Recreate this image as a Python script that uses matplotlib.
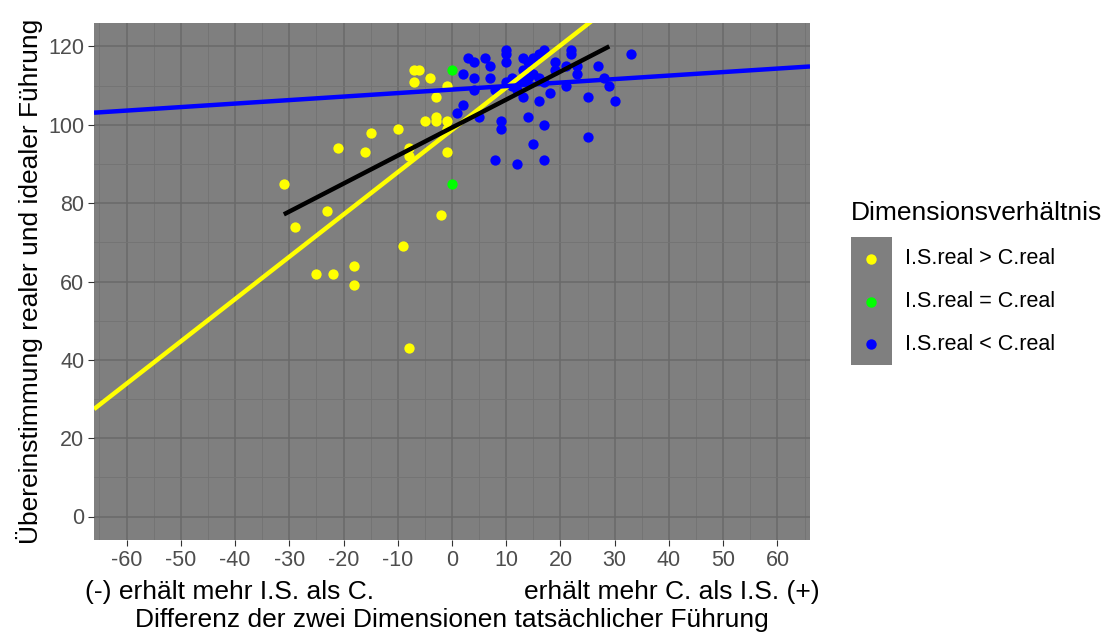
import matplotlib
matplotlib.use("Agg")
import matplotlib.pyplot as plt
import numpy as np
from matplotlib.lines import Line2D
from matplotlib.patches import Rectangle

plt.rcParams['font.family'] = ['Liberation Sans', 'DejaVu Sans']
plt.rcParams['axes.unicode_minus'] = False

# Differenz (C. - I.S.) und Uebereinstimmung, je Gruppe
yellow_x = [-31, -29, -25, -22, -23, -21, -18, -18, -16, -15, -10, -9, -8, -8, -8,
            -7, -7, -6, -4, -5, -3, -3, -3, -2, -1, -1, -1, -1]
yellow_y = [85, 74, 62, 62, 78, 94, 64, 59, 93, 98, 99, 69, 43, 94, 92,
            111, 114, 114, 112, 101, 107, 102, 101, 77, 93, 110, 101, 99]
green_x = [0, 0]
green_y = [114, 85]
blue_x = [3, 4, 6, 7, 10, 10, 10, 13, 14, 15, 16, 17, 19, 19, 21, 22, 22, 23, 23, 27, 28, 29, 33,
          2, 4, 7, 8, 4, 11, 12, 13, 13, 14, 15, 16, 17, 18, 21, 25, 30, 16, 13,
          2, 1, 5, 9, 9, 14, 17, 25, 15, 8, 12, 17, 10, 12, 11]
blue_y = [117, 116, 117, 115, 119, 118, 116, 117, 116, 117, 118, 119, 116, 114, 115, 119, 118, 115, 113, 115, 112, 110, 118,
          113, 112, 112, 109, 109, 112, 111, 114, 112, 112, 113, 112, 111, 108, 110, 107, 106, 106, 107,
          105, 103, 102, 101, 99, 102, 100, 97, 95, 91, 90, 91, 111, 109, 110]

# Regressionsgeraden: (Achsenabschnitt, Steigung, x-Bereich)
yellow_fit = (98.7, 1.08, (-66, 66))
blue_fit = (109.0, 0.0894, (-66, 66))
black_fit = (99.3, 0.715, (-31, 29))

x_ticks = list(range(-60, 61, 10))
y_ticks = list(range(0, 121, 20))

legend_labels = ['I.S.real > C.real', 'I.S.real = C.real', 'I.S.real < C.real']
legend_colors = ['#ffff00', '#00ff00', '#0000ff']

W, H = 1115, 633
fig = plt.figure(figsize=(W / 100, H / 100), dpi=100)
ax = fig.add_axes([94 / W, 1 - 540 / H, (810 - 94) / W, (540 - 23) / H])
ax.set_facecolor('#7f7f7f')

ax.set_xlim(-66, 66)
ax.set_ylim(-6, 126)
ax.set_xticks(x_ticks)
ax.set_yticks(y_ticks)
ax.set_xticks(np.arange(-65, 66, 10), minor=True)
ax.set_yticks(np.arange(10, 121, 20), minor=True)
ax.grid(which='major', color='#6a6a6a', linewidth=1.1)
ax.grid(which='minor', color='#737373', linewidth=0.6)
ax.set_axisbelow(True)
for s in ax.spines.values():
    s.set_visible(False)
ax.tick_params(which='major', length=4, color='#333333', labelsize=15.5, labelcolor='#4d4d4d', pad=3)
ax.tick_params(which='minor', length=0)

ax.scatter(yellow_x, yellow_y, s=55, color=legend_colors[0], zorder=3, linewidths=0)
ax.scatter(green_x, green_y, s=55, color=legend_colors[1], zorder=3, linewidths=0)
ax.scatter(blue_x, blue_y, s=55, color=legend_colors[2], zorder=3, linewidths=0)

for (b0, b1, rng), col in [(yellow_fit, '#ffff00'), (blue_fit, '#0000ff'), (black_fit, 'black')]:
    xs = np.array(rng, dtype=float)
    ax.plot(xs, b0 + b1 * xs, color=col, linewidth=3.2, zorder=4, solid_capstyle='butt')

ax.set_ylabel('Übereinstimmung realer und idealer Führung', fontsize=19, labelpad=4)

fig.text(85 / W, 1 - 592 / H, '(-) erhält mehr I.S. als C.', fontsize=19, ha='left', va='center')
fig.text(820 / W, 1 - 592 / H, 'erhält mehr C. als I.S. (+)', fontsize=19, ha='right', va='center')
fig.text(452 / W, 1 - 620 / H, 'Differenz der zwei Dimensionen tatsächlicher Führung',
         fontsize=19, ha='center', va='center')

# Legende von Hand
fig.text(851 / W, 1 - 213 / H, 'Dimensionsverhältnis', fontsize=19, ha='left', va='center')
fig.patches.append(Rectangle((851 / W, 1 - 365 / H), 41 / W, 128 / H,
                             transform=fig.transFigure, facecolor='#7f7f7f',
                             edgecolor='none', zorder=0))
for i, (lab, col) in enumerate(zip(legend_labels, legend_colors)):
    yy = 1 - (259 + i * 42.5) / H
    fig.add_artist(Line2D([871.5 / W], [yy], marker='o', linestyle='', markersize=7.5,
                          markeredgewidth=0, color=col, transform=fig.transFigure))
    fig.text(905 / W, yy, lab, fontsize=15.5, ha='left', va='center')

fig.savefig('out.png', dpi=100)
